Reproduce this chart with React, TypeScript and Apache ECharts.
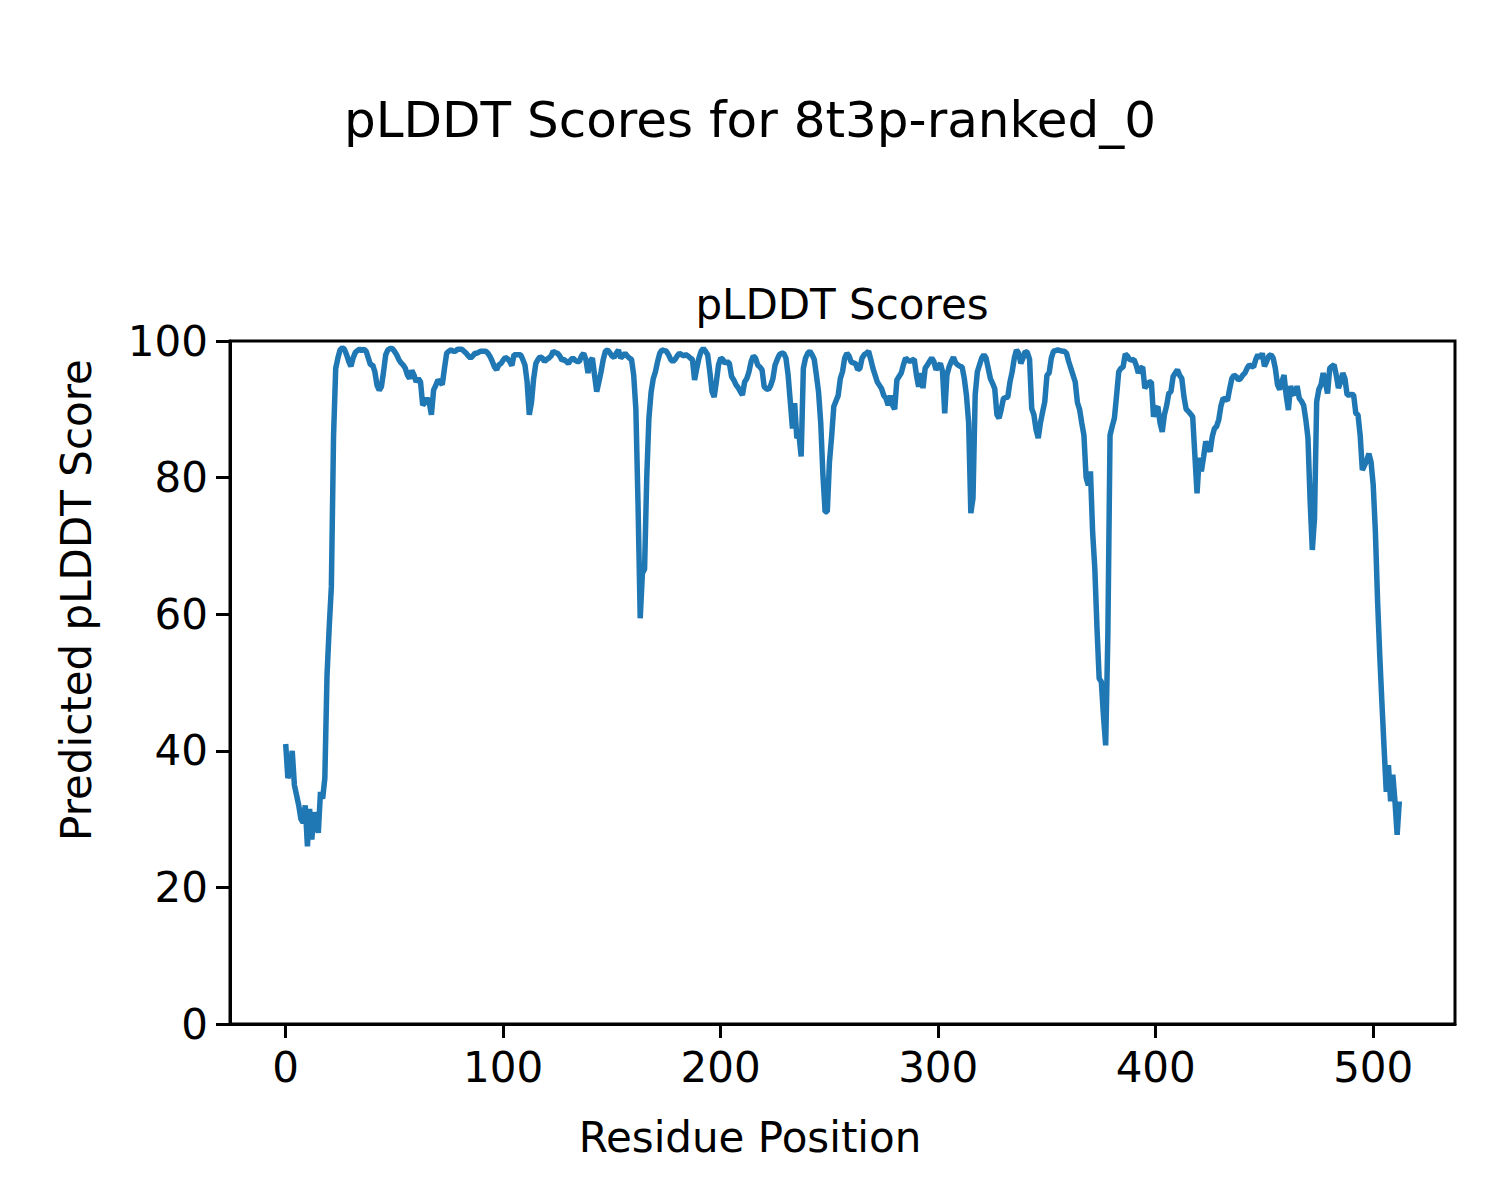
import React, { useEffect, useRef } from "react";
import * as echarts from "echarts";

// pLDDT per residue
const plddt: number[] = [
  41, 36, 37, 40, 35, 33.5, 32, 30, 29.5, 32,
  26, 31.5, 27, 31, 29.5, 28, 34, 33, 36, 51,
  58, 64, 86, 96, 97.5, 98.7, 99, 98.8, 98, 97,
  96.3, 97.5, 98.3, 98.6, 98.8, 98.6, 98.8, 98.5, 97.5, 96.5,
  96.5, 95.5, 93.5, 92.8, 93.3, 95.5, 98, 98.7, 98.9, 98.9,
  98.5, 98, 97.3, 96.8, 96.5, 96, 95, 94.5, 95.7, 95,
  94, 94.5, 94, 90.6, 91, 91.6, 91, 89.2, 92.8, 93.5,
  94.3, 94, 93.6, 96, 98.2, 98.5, 98.7, 98.5, 98.5, 98.8,
  98.8, 98.8, 98.5, 98.2, 97.8, 97.5, 97.8, 98.2, 98.2, 98.4,
  98.5, 98.5, 98.5, 98.2, 97.7, 97, 96.2, 95.8, 96.5, 96.7,
  97.2, 97.6, 97.4, 97, 96.4, 98, 98, 98, 98, 97.3,
  96.5, 94, 89.2, 91, 94.5, 96.7, 97.3, 97.7, 97.5, 97,
  97.3, 97.5, 97.8, 98.5, 98.3, 98.2, 97.8, 97.2, 97.3, 97,
  96.7, 97.2, 97.5, 97.2, 97, 97, 97.8, 98.2, 97.3, 95.3,
  97, 97.5, 95, 92.6, 94, 95.5, 97.3, 98.5, 98.7, 98.3,
  97.8, 97.6, 98.2, 98.7, 97.5, 97.8, 98.2, 97.8, 97.5, 97.3,
  95, 90, 76, 59.4, 66, 66.6, 80, 88.7, 92.5, 94.5,
  95.5, 97, 98.2, 98.7, 98.6, 98.5, 98, 97.3, 97, 97.3,
  97.8, 98.2, 98, 97.8, 98, 97.8, 97.5, 97.3, 94.3, 96,
  97.5, 98.5, 98.9, 98.5, 98, 95.5, 92.6, 91.8, 94, 96.5,
  97.5, 97.3, 96.7, 97, 96.7, 94.8, 94.3, 93.6, 93.2, 92.6,
  92.1, 94, 94.5, 95.5, 97, 97.8, 97.5, 96.5, 96.2, 95.8,
  93.3, 93, 92.9, 93.5, 94.5, 96.5, 97.3, 98, 98.2, 98.2,
  97.5, 95, 91.1, 87.2, 90.9, 85.8, 86.2, 83.1, 96, 97.5,
  98.2, 98.5, 98, 97.3, 95, 92.5, 88, 80.4, 75, 75,
  82.3, 86, 90.4, 91.2, 92, 94.5, 95.5, 97.5, 98.2, 97.8,
  96.9, 96.8, 96.7, 95.8, 96, 97.5, 98, 98.2, 98.5, 97.3,
  96, 95, 94, 93.5, 93, 92, 91.6, 90.6, 92, 90.6,
  90, 94.3, 94.8, 95.3, 96.5, 97.5, 97.2, 97, 97.2, 97.3,
  95, 93.3, 95.3, 93.1, 96, 96.5, 97, 97.5, 97, 95.8,
  96.3, 96.7, 95.5, 89.4, 95, 96.2, 97, 97.6, 96.8, 96.5,
  96.3, 96.2, 94.5, 92, 88, 74.8, 77, 92.1, 95.5, 96.5,
  97.5, 98, 97.5, 96, 94.5, 93.8, 93, 89.2, 88.7, 90,
  91.6, 91.7, 91.8, 94, 95.5, 97.5, 98.7, 98.2, 96.7, 97.5,
  98.5, 98.3, 97.3, 90.1, 89.2, 87, 85.8, 88, 89.6, 91.1,
  95, 95.3, 97.5, 98.5, 98.6, 98.7, 98.6, 98.5, 98.5, 98.2,
  97, 96, 95, 94, 91, 90, 88, 86.2, 80, 78.9,
  80.9, 72, 66.7, 58, 50.6, 50.1, 45, 40.8, 57, 86.2,
  87.5, 88.7, 92, 95.5, 96, 96.2, 98.1, 97.8, 97.3, 97.2,
  97.3, 96.5, 95.3, 96, 96.2, 93.1, 93.5, 94, 94, 88.9,
  90, 90.4, 88, 86.7, 89.2, 90.5, 92.3, 92.6, 94.8, 95.3,
  95.8, 95, 94.5, 91.8, 90, 89.7, 89.3, 88.9, 83.3, 77.7,
  82.9, 80.9, 83, 85.3, 84.5, 83.8, 86, 87.2, 87.5, 88.5,
  90.5, 91.6, 91.5, 91.3, 93, 94.5, 95, 94.8, 94.3, 94.5,
  95, 95.3, 96, 96.5, 96.3, 96.2, 97.3, 98, 97.5, 98.2,
  96.3, 97, 97.8, 98, 97.5, 96, 93.6, 92.9, 94, 95,
  92, 89.9, 93.4, 92.5, 92.1, 93.4, 91.6, 91.2, 90.6, 88.5,
  85.8, 76.5, 69.4, 74, 91.1, 92.9, 93.6, 95.3, 94, 92.3,
  96, 96.3, 96.5, 95, 93.1, 94, 95.3, 94.5, 92.1, 92.1,
  92.2, 92.1, 89.4, 89.2, 86.2, 81.1, 81.8, 82.5, 83.5, 82.3,
  78.9, 72, 62, 54, 47, 40.4, 34, 37.9, 32.6, 36.5,
  32.6, 27.7, 32.6,
];
const residues: number[] = plddt.map((_, i) => i);

const xTicks = [0, 100, 200, 300, 400, 500];
const yTicks = [0, 20, 40, 60, 80, 100];

const figTitle = "pLDDT Scores for 8t3p-ranked_0";
const axesTitle = "pLDDT Scores";
const xLabel = "Residue Position";
const yLabel = "Predicted pLDDT Score";

const FONT = '"DejaVu Sans", "Liberation Sans", sans-serif';

export default function App() {
  const ref = useRef<HTMLDivElement>(null);
  useEffect(() => {
    document.body.style.margin = "0";
    if (!ref.current) return;
    const chart = echarts.init(ref.current, null, { renderer: "svg" });
    chart.setOption({
      animation: false,
      backgroundColor: "#ffffff",
      grid: {
        left: 230,
        top: 341,
        width: 1225,
        height: 683,
        show: true,
        borderColor: "#000000",
        borderWidth: 3,
        backgroundColor: "transparent",
      },
      xAxis: {
        type: "value",
        min: -25.6,
        max: 537.6,
        axisLine: { show: true, onZero: false, lineStyle: { color: "#000", width: 3 } },
        axisTick: {
          show: true,
          length: 14,
          inside: false,
          customValues: xTicks,
          lineStyle: { color: "#000", width: 3 },
        },
        axisLabel: {
          customValues: xTicks,
          fontSize: 42,
          fontFamily: FONT,
          color: "#000",
          margin: 22,
        },
        splitLine: { show: false },
      },
      yAxis: {
        type: "value",
        min: yTicks[0],
        max: yTicks[yTicks.length - 1],
        interval: 20,
        axisLine: { show: true, onZero: false, lineStyle: { color: "#000", width: 3 } },
        axisTick: { show: true, length: 14, lineStyle: { color: "#000", width: 3 } },
        axisLabel: {
          fontSize: 42,
          fontFamily: FONT,
          color: "#000",
          margin: 22,
        },
        splitLine: { show: false },
      },
      series: [
        {
          type: "line",
          data: residues.map((r, i) => [r, plddt[i]]),
          showSymbol: false,
          symbol: "none",
          lineStyle: { color: "#1f77b4", width: 5.5 },
          clip: true,
        },
      ],
      graphic: [
        {
          type: "text",
          x: 750,
          y: 120,
          style: {
            text: figTitle,
            fill: "#000",
            font: `50px ${FONT}`,
            textAlign: "center",
            textVerticalAlign: "middle",
          },
        },
        {
          type: "text",
          x: 842,
          y: 304,
          style: {
            text: axesTitle,
            fill: "#000",
            font: `42px ${FONT}`,
            textAlign: "center",
            textVerticalAlign: "middle",
          },
        },
        {
          type: "text",
          x: 750,
          y: 1137,
          style: {
            text: xLabel,
            fill: "#000",
            font: `42px ${FONT}`,
            textAlign: "center",
            textVerticalAlign: "middle",
          },
        },
        {
          type: "text",
          x: 76,
          y: 600,
          rotation: Math.PI / 2,
          style: {
            text: yLabel,
            fill: "#000",
            font: `42px ${FONT}`,
            textAlign: "center",
            textVerticalAlign: "middle",
          },
        },
      ],
    });
    return () => chart.dispose();
  }, []);
  return <div ref={ref} style={{ width: 1500, height: 1200 }} />;
}
